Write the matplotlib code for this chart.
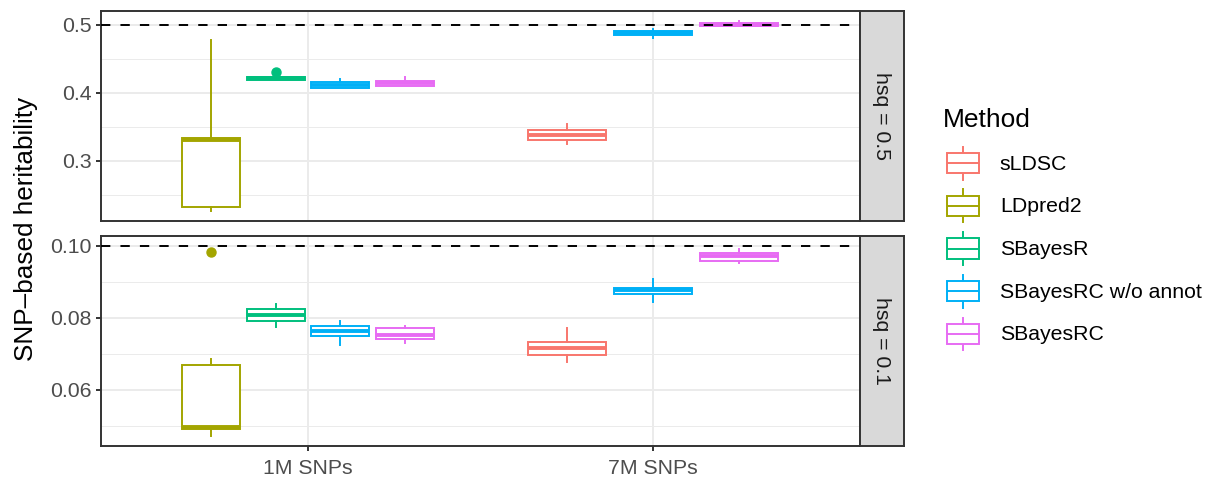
import matplotlib
matplotlib.use("Agg")
import matplotlib.pyplot as plt
from matplotlib.patches import Rectangle
from matplotlib.lines import Line2D
from matplotlib.legend_handler import HandlerBase

plt.rcParams['font.family'] = ['Liberation Sans', 'DejaVu Sans']

# ---- data -----------------------------------------------------------------
methods = ["sLDSC", "LDpred2", "SBayesR", "SBayesRC w/o annot", "SBayesRC"]
method_colors = ["#F8766D", "#A3A500", "#00BF7D", "#00B0F6", "#E76BF3"]
snp_sets = ["1M SNPs", "7M SNPs"]
panel_labels = ["hsq = 0.5", "hsq = 0.1"]
true_hsq = [0.5, 0.1]

# method / SNP-set combinations that were run (same for both simulations)
box_snp = ["1M SNPs", "1M SNPs", "1M SNPs", "1M SNPs",
           "7M SNPs", "7M SNPs", "7M SNPs"]
box_method = ["LDpred2", "SBayesR", "SBayesRC w/o annot", "SBayesRC",
              "sLDSC", "SBayesRC w/o annot", "SBayesRC"]

# box summaries, hsq = 0.5
h05_whislo = [0.2260, 0.4185, 0.4073, 0.4098, 0.3244, 0.4808, 0.4975]
h05_q1     = [0.2325, 0.4188, 0.4076, 0.4100, 0.3302, 0.4850, 0.4976]
h05_med    = [0.3310, 0.4212, 0.4114, 0.4139, 0.3380, 0.4874, 0.5000]
h05_q3     = [0.3340, 0.4236, 0.4152, 0.4177, 0.3457, 0.4898, 0.5024]
h05_whishi = [0.4775, 0.4240, 0.4197, 0.4226, 0.3540, 0.4930, 0.5058]
h05_fliers = [[], [0.4305], [], [], [], [], []]

# box summaries, hsq = 0.1
h01_whislo = [0.0471, 0.07745, 0.07252, 0.0730, 0.06767, 0.0844, 0.0952]
h01_q1     = [0.0491, 0.07900, 0.07507, 0.0740, 0.06978, 0.0865, 0.0957]
h01_med    = [0.0497, 0.08064, 0.07636, 0.07526, 0.07170, 0.0878, 0.0972]
h01_q3     = [0.0668, 0.08228, 0.07773, 0.07718, 0.07324, 0.0883, 0.0980]
h01_whishi = [0.0687, 0.08375, 0.07910, 0.0778, 0.07726, 0.0906, 0.0990]
h01_fliers = [[0.0983], [], [], [], [], [], []]

panel_stats = [
    (h05_whislo, h05_q1, h05_med, h05_q3, h05_whishi, h05_fliers),
    (h01_whislo, h01_q1, h01_med, h01_q3, h01_whishi, h01_fliers),
]
major_ticks = [[0.3, 0.4, 0.5], [0.06, 0.08, 0.10]]
minor_ticks = [[0.25, 0.35, 0.45], [0.05, 0.07, 0.09]]
tick_fmt = ["{:.1f}", "{:.2f}"]

# ---- style ----------------------------------------------------------------
W, H = 1220, 484
LW = 1.4
GRID = "#EBEBEB"
DARK = "#333333"
TICKTXT = "#4D4D4D"
FS = 15.3

fig = plt.figure(figsize=(W / 100, H / 100), dpi=100)


def fx(px):
    return px / W


def fy(py):
    return 1 - py / H


panel_rows = [(11, 221), (236, 446)]
px_left, px_right = 101, 860
strip_right = 904
color_of = dict(zip(methods, method_colors))

# dodge positions: boxes present in each SNP set share a 0.75-wide slot
positions, widths = [], []
for s, m in zip(box_snp, box_method):
    i = snp_sets.index(s)
    present = [mm for mm in methods
               if any(bs == s and bm == mm for bs, bm in zip(box_snp, box_method))]
    k = len(present)
    slot = 0.75 / k
    j = present.index(m)
    positions.append(i + 1 + (j - (k - 1) / 2) * slot)
    widths.append(slot * 0.9)

for p, (top, bot) in enumerate(panel_rows):
    ax = fig.add_axes([fx(px_left), fy(bot), fx(px_right - px_left),
                       (bot - top) / H])
    whislo, q1, med, q3, whishi, fliers = panel_stats[p]

    lo = min(whislo)
    hi = max(max(whishi), max(max(f) if f else 0 for f in fliers), true_hsq[p])
    pad = 0.05 * (hi - lo)
    ax.set_ylim(lo - pad, hi + pad)
    ax.set_xlim(0.4, 2.6)

    ax.set_axisbelow(True)
    ax.set_yticks(major_ticks[p])
    ax.set_yticks(minor_ticks[p], minor=True)
    ax.set_yticklabels([tick_fmt[p].format(v) for v in major_ticks[p]])
    ax.set_xticks([1, 2])
    ax.grid(True, which="major", color=GRID, lw=LW)
    ax.grid(True, which="minor", axis="y", color=GRID, lw=LW / 2)

    for b in range(len(box_method)):
        c = color_of[box_method[b]]
        st = dict(whislo=whislo[b], q1=q1[b], med=med[b], q3=q3[b],
                  whishi=whishi[b], fliers=fliers[b])
        ax.bxp([st], positions=[positions[b]], widths=[widths[b]],
               patch_artist=True, showcaps=False, manage_ticks=False,
               boxprops=dict(facecolor="white", edgecolor=c, linewidth=LW),
               whiskerprops=dict(color=c, linewidth=LW),
               medianprops=dict(color=c, linewidth=2 * LW,
                                solid_capstyle="butt"),
               flierprops=dict(marker="o", markerfacecolor=c,
                               markeredgecolor=c, markersize=6.5))

    ax.axhline(true_hsq[p], color="black", lw=LW, ls=(0, (4.8, 5.2)),
               zorder=5)

    for sp in ax.spines.values():
        sp.set_color(DARK)
        sp.set_linewidth(LW)
    ax.tick_params(axis="y", which="major", direction="out", length=3.5,
                   width=LW, color=DARK, labelcolor=TICKTXT, labelsize=FS,
                   pad=3.5)
    ax.tick_params(axis="y", which="minor", length=0)
    if p == 0:
        ax.tick_params(axis="x", length=0, labelbottom=False)
    else:
        ax.set_xticklabels(snp_sets)
        ax.tick_params(axis="x", direction="out", length=3.5, width=LW,
                       color=DARK, labelcolor=TICKTXT, labelsize=FS, pad=6)

    # facet strip on the right
    sax = fig.add_axes([fx(px_right), fy(bot), fx(strip_right - px_right),
                        (bot - top) / H])
    sax.set_facecolor("#D9D9D9")
    sax.set_xticks([])
    sax.set_yticks([])
    for sp in sax.spines.values():
        sp.set_color(DARK)
        sp.set_linewidth(LW)
    sax.text(0.5, 0.5, panel_labels[p], rotation=-90, ha="center",
             va="center", fontsize=FS, color="#1A1A1A",
             transform=sax.transAxes)

fig.text(fx(26), fy((11 + 446) / 2), "SNP\u2013based heritability",
         rotation=90, ha="center", va="center", fontsize=18.8, color="black")


# ---- legend ---------------------------------------------------------------
class BoxKey(HandlerBase):
    def create_artists(self, legend, orig_handle, xdescent, ydescent,
                       width, height, fontsize, trans):
        c = orig_handle.get_color()
        x0, y0 = -xdescent, -ydescent
        xm = x0 + 0.5 * width
        arts = [
            Line2D([xm, xm], [y0 + 0.1 * height, y0 + 0.25 * height],
                   color=c, lw=LW, transform=trans),
            Line2D([xm, xm], [y0 + 0.75 * height, y0 + 0.9 * height],
                   color=c, lw=LW, transform=trans),
            Rectangle((x0 + 0.125 * width, y0 + 0.25 * height),
                      0.75 * width, 0.5 * height, facecolor="white",
                      edgecolor=c, lw=LW, transform=trans),
            Line2D([x0 + 0.125 * width, x0 + 0.875 * width],
                   [y0 + 0.5 * height] * 2, color=c, lw=LW,
                   solid_capstyle="butt", transform=trans),
        ]
        return arts


handles = [Line2D([], [], color=c) for c in method_colors]
fig.text(fx(943), fy(127), "Method", fontsize=19, ha="left",
         va="baseline", color="black")
fig.legend(handles, methods, handler_map={Line2D: BoxKey()},
           loc="upper left", bbox_to_anchor=(fx(942), fy(142.7)),
           frameon=False, fontsize=FS, handlelength=2.0, handleheight=2.59,
           labelspacing=0.08, handletextpad=0.72, borderpad=0,
           borderaxespad=0)

fig.savefig("out.png", dpi=100)
